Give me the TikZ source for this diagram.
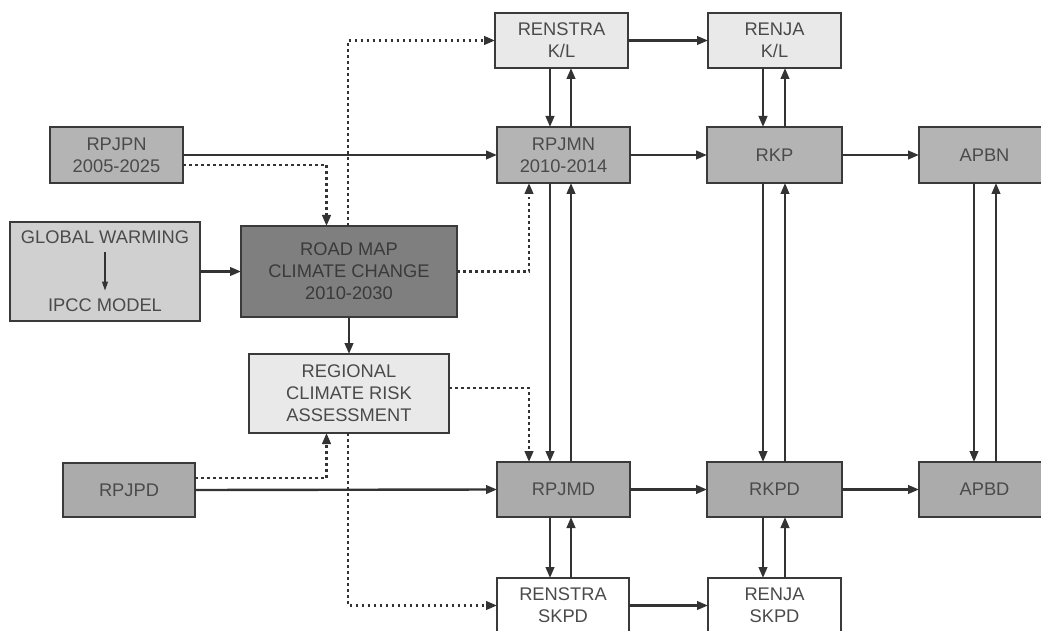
\documentclass[tikz,border=0pt]{standalone}
\usepackage{fontspec}
\setmainfont{Liberation Sans}
\usetikzlibrary{arrows.meta}
\definecolor{txt}{HTML}{4A4A4A}
\definecolor{bord}{HTML}{3A3A3A}
\definecolor{lnc}{HTML}{333333}
\definecolor{midA}{HTML}{B4B4B4}
\definecolor{midB}{HTML}{ABABAB}
\definecolor{dark}{HTML}{7F7F7F}
\definecolor{glob}{HTML}{D0D0D0}
\definecolor{lite}{HTML}{E9E9E9}
\tikzset{
  box/.style={draw=bord, line width=2.8pt, inner sep=0pt, outer sep=0pt,
    align=center, text=txt, font=\fontsize{18.3}{22}\selectfont},
  arr/.style={draw=lnc, line width=2.4pt, -{Triangle[length=11pt,width=8.5pt]}},
  dotarr/.style={draw=lnc, line width=2.6pt, dash pattern=on 2.8pt off 3.2pt,
    -{Triangle[length=11pt,width=8.5pt]}},
  thinarr/.style={draw=lnc, line width=1.2pt, -{Triangle[length=9pt,width=6pt]}},
  plain/.style={inner sep=0pt, outer sep=0pt, text=txt, font=\fontsize{18.3}{22}\selectfont}
}
\begin{document}
\begin{tikzpicture}[x=1pt,y=-1pt]
\useasboundingbox (0,0) rectangle (1041,631);
\clip (0,0) rectangle (1041,631);
\fill[white] (0,0) rectangle (1041,631);
% nodes
\node[box, fill=lite, minimum width=133pt, minimum height=55pt] (renstraKL) at (561.5,40.5) {RENSTRA\\K/L};
\node[box, fill=lite, minimum width=133pt, minimum height=55pt] (renjaKL) at (774.5,40.5) {RENJA\\K/L};
\node[box, fill=midA, minimum width=133pt, minimum height=56pt] (rpjmn) at (563.5,155) {RPJMN\\2010-2014};
\node[box, fill=midA, minimum width=135pt, minimum height=56pt] (rkp) at (774.5,155) {RKP};
\node[box, fill=midA, minimum width=131pt, minimum height=56pt] (apbn) at (984.5,155) {APBN};
\node[box, fill=midA, minimum width=133pt, minimum height=56pt] (rpjpn) at (116.5,155) {RPJPN\\2005-2025};
\node[box, fill=glob, minimum width=190pt, minimum height=99pt] (global) at (105,271.5) {};
\node[plain] (gw) at (105,237) {GLOBAL WARMING};
\node[plain] (ipcc) at (105,305) {IPCC MODEL};
\node[box, fill=dark, text=bord, minimum width=216pt, minimum height=91pt] (roadmap) at (349,271.5) {ROAD MAP\\CLIMATE CHANGE\\2010-2030};
\node[box, fill=lite, minimum width=200pt, minimum height=79pt] (regional) at (349,393.5) {REGIONAL\\CLIMATE RISK\\ASSESSMENT};
\node[box, fill=midB, minimum width=132pt, minimum height=54pt] (rpjpd) at (129,490) {RPJPD};
\node[box, fill=midB, minimum width=133pt, minimum height=55pt] (rpjmd) at (563.5,489.5) {RPJMD};
\node[box, fill=midB, minimum width=135pt, minimum height=55pt] (rkpd) at (774.5,489.5) {RKPD};
\node[box, fill=midB, minimum width=131pt, minimum height=55pt] (apbd) at (984.5,489.5) {APBD};
\node[box, fill=white, minimum width=132pt, minimum height=55pt] (renstraSKPD) at (563,605.5) {RENSTRA\\SKPD};
\node[box, fill=white, minimum width=133pt, minimum height=55pt] (renjaSKPD) at (774.5,605.5) {RENJA\\SKPD};
% helper coordinates
\coordinate (xa) at (550,0);
\coordinate (xb) at (571,0);
\coordinate (xc) at (763,0);
\coordinate (xd) at (785,0);
\coordinate (xe) at (974,0);
\coordinate (xf) at (996,0);
\coordinate (xg) at (529,0);
\coordinate (xh) at (326.5,0);
\coordinate (xi) at (348,0);
\coordinate (y165) at (0,165);
\coordinate (y388) at (0,388);
\coordinate (y478) at (0,478);
% horizontal solid arrows
\draw[arr] (renstraKL.east) -- (renjaKL.west);
\draw[arr] (rpjpn.east) -- (rpjmn.west);
\draw[arr] (rpjmn.east) -- (rkp.west);
\draw[arr] (rkp.east) -- (apbn.west);
\draw[arr] (global.east) -- (roadmap.west);
\draw[arr] (rpjpd.east) -- (rpjmd.west);
\draw[arr] (rpjmd.east) -- (rkpd.west);
\draw[arr] (rkpd.east) -- (apbd.west);
\draw[arr] (renstraSKPD.east) -- (renjaSKPD.west);
% vertical solid arrows
\draw[arr] (xa |- renstraKL.south) -- (xa |- rpjmn.north);
\draw[arr] (xb |- rpjmn.north) -- (xb |- renstraKL.south);
\draw[arr] (xa |- rpjmn.south) -- (xa |- rpjmd.north);
\draw[arr] (xb |- rpjmd.north) -- (xb |- rpjmn.south);
\draw[arr] (xa |- rpjmd.south) -- (xa |- renstraSKPD.north);
\draw[arr] (xb |- renstraSKPD.north) -- (xb |- rpjmd.south);
\draw[arr] (xc |- renjaKL.south) -- (xc |- rkp.north);
\draw[arr] (xd |- rkp.north) -- (xd |- renjaKL.south);
\draw[arr] (xc |- rkp.south) -- (xc |- rkpd.north);
\draw[arr] (xd |- rkpd.north) -- (xd |- rkp.south);
\draw[arr] (xc |- rkpd.south) -- (xc |- renjaSKPD.north);
\draw[arr] (xd |- renjaSKPD.north) -- (xd |- rkpd.south);
\draw[arr] (xe |- apbn.south) -- (xe |- apbd.north);
\draw[arr] (xf |- apbd.north) -- (xf |- apbn.south);
\draw[arr] (roadmap.south) -- (regional.north);
\draw[thinarr, shorten <=9pt, shorten >=8pt] (gw.south) -- (ipcc.north);
% dotted arrows
\draw[dotarr] (rpjpn.east |- y165) -| (xh |- roadmap.north);
\draw[dotarr] (xi |- roadmap.north) |- (renstraKL.west);
\draw[dotarr] (roadmap.east) -| (xg |- rpjmn.south);
\draw[dotarr] (regional.east |- y388) -| (xg |- rpjmd.north);
\draw[dotarr] (rpjpd.east |- y478) -| (xh |- regional.south);
\draw[dotarr] (xi |- regional.south) |- (renstraSKPD.west);
\end{tikzpicture}
\end{document}
